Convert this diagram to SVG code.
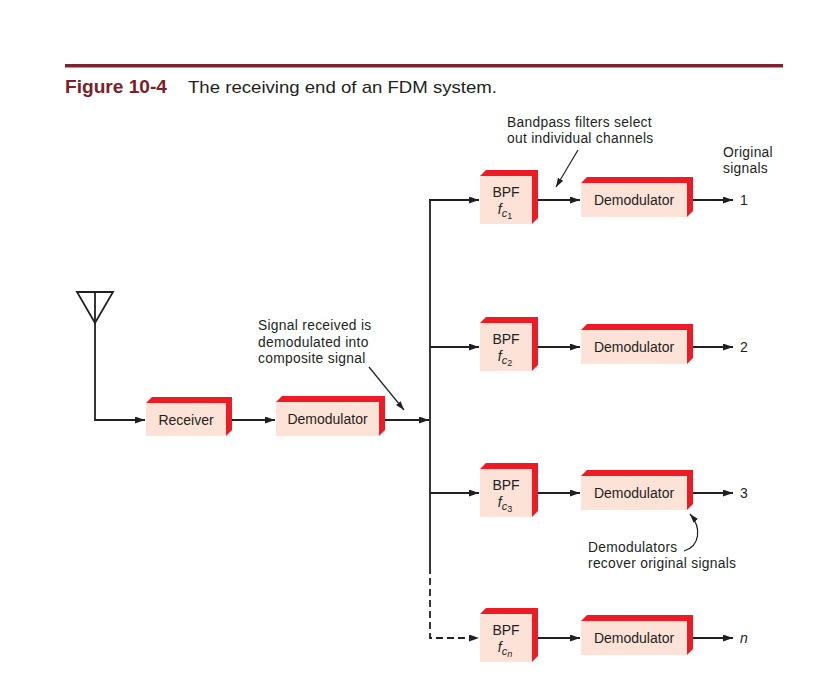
<svg xmlns="http://www.w3.org/2000/svg" width="818" height="683" viewBox="0 0 818 683">
<defs>
<style>
.t{font-family:"Liberation Sans",Arial,sans-serif;fill:#231f20}
.bx{font-size:14px}
.an{font-size:13.8px;letter-spacing:0.3px}
.ln{stroke:#231f20;stroke-width:1.8;fill:none}
.fr{fill:#fde2d8}
.rd{fill:#ed1c24}
</style>
<marker id="ah" markerUnits="userSpaceOnUse" markerWidth="11" markerHeight="8" refX="10" refY="3.5" orient="auto">
<path d="M0,0 L10,3.5 L0,7 z" fill="#231f20"/>
</marker>
<marker id="ah2" markerUnits="userSpaceOnUse" markerWidth="10" markerHeight="8" refX="9" refY="3" orient="auto">
<path d="M0,0 L9,3 L0,6 z" fill="#231f20"/>
</marker>
</defs>
<rect width="818" height="683" fill="#ffffff"/>
<rect x="65" y="64" width="718" height="3.5" fill="#7a2530"/>
<text class="t" x="65" y="93" font-size="18" font-weight="bold" style="fill:#7b2027" textLength="102" lengthAdjust="spacingAndGlyphs">Figure 10-4</text>
<text class="t" x="188" y="93" font-size="17" textLength="309" lengthAdjust="spacingAndGlyphs">The receiving end of an FDM system.</text>

<g id="antenna">
<polygon class="ln" points="77,292 113,292 95,323"/>
</g>

<g id="connectors">
<path class="ln" d="M95,292 V420 H145" marker-end="url(#ah)"/>
<path class="ln" d="M232,420 H275" marker-end="url(#ah)"/>
<path class="ln" d="M385,420 H429" marker-end="url(#ah)"/>
<path class="ln" d="M430,199 V567"/>
<path class="ln" d="M430,567 V638 H479" stroke-dasharray="7 4" marker-end="url(#ah)"/>
<path class="ln" d="M429,200 H479" marker-end="url(#ah)"/>
<path class="ln" d="M430,347 H479" marker-end="url(#ah)"/>
<path class="ln" d="M430,493 H479" marker-end="url(#ah)"/>
<path class="ln" d="M538,200 H580" marker-end="url(#ah)"/>
<path class="ln" d="M538,347 H580" marker-end="url(#ah)"/>
<path class="ln" d="M538,493 H580" marker-end="url(#ah)"/>
<path class="ln" d="M538,638 H580" marker-end="url(#ah)"/>
<path class="ln" d="M693,200 H733" marker-end="url(#ah)"/>
<path class="ln" d="M693,347 H733" marker-end="url(#ah)"/>
<path class="ln" d="M693,493 H733" marker-end="url(#ah)"/>
<path class="ln" d="M693,638 H733" marker-end="url(#ah)"/>
<path class="ln" style="stroke-width:1.2" d="M369,367 L404,410" marker-end="url(#ah2)"/>
<path class="ln" style="stroke-width:1.2" d="M578,150 L556,187" marker-end="url(#ah2)"/>
<path class="ln" style="stroke-width:1.2" d="M684,551 C700,546 702,528 690,514" marker-end="url(#ah2)"/>
</g>

<g id="receiver">
<polygon class="rd" points="146,403 152,397 232,397 232,430 226,436"/>
<rect class="fr" x="146" y="403" width="80" height="33"/>
<text class="t bx" x="186" y="425" text-anchor="middle">Receiver</text>
</g>
<g id="demod0">
<polygon class="rd" points="276,402 282,396 385,396 385,430 379,436"/>
<rect class="fr" x="276" y="402" width="103" height="34"/>
<text class="t bx" x="327.5" y="424" text-anchor="middle">Demodulator</text>
</g>

<g id="bpf1">
<polygon class="rd" points="480,176 486,170 538,170 538,218 532,224"/>
<rect class="fr" x="480" y="176" width="52" height="48"/>
<text class="t bx" x="506" y="197" text-anchor="middle">BPF</text>
<text class="t bx" x="505" y="214" text-anchor="middle" font-style="italic">f<tspan font-size="11" dy="3">c</tspan><tspan font-size="9" dy="2" font-style="normal">1</tspan></text>
</g>
<g id="bpf2">
<polygon class="rd" points="480,323 486,317 538,317 538,365 532,371"/>
<rect class="fr" x="480" y="323" width="52" height="48"/>
<text class="t bx" x="506" y="344" text-anchor="middle">BPF</text>
<text class="t bx" x="505" y="361" text-anchor="middle" font-style="italic">f<tspan font-size="11" dy="3">c</tspan><tspan font-size="9" dy="2" font-style="normal">2</tspan></text>
</g>
<g id="bpf3">
<polygon class="rd" points="480,469 486,463 538,463 538,511 532,517"/>
<rect class="fr" x="480" y="469" width="52" height="48"/>
<text class="t bx" x="506" y="490" text-anchor="middle">BPF</text>
<text class="t bx" x="505" y="507" text-anchor="middle" font-style="italic">f<tspan font-size="11" dy="3">c</tspan><tspan font-size="9" dy="2" font-style="normal">3</tspan></text>
</g>
<g id="bpfn">
<polygon class="rd" points="480,614 486,608 538,608 538,656 532,662"/>
<rect class="fr" x="480" y="614" width="52" height="48"/>
<text class="t bx" x="506" y="635" text-anchor="middle">BPF</text>
<text class="t bx" x="505" y="652" text-anchor="middle" font-style="italic">f<tspan font-size="11" dy="3">c</tspan><tspan font-size="9" dy="2">n</tspan></text>
</g>

<g id="demod1">
<polygon class="rd" points="581,183 587,177 693,177 693,211 687,217"/>
<rect class="fr" x="581" y="183" width="106" height="34"/>
<text class="t bx" x="634" y="205" text-anchor="middle">Demodulator</text>
</g>
<g id="demod2">
<polygon class="rd" points="581,330 587,324 693,324 693,358 687,364"/>
<rect class="fr" x="581" y="330" width="106" height="34"/>
<text class="t bx" x="634" y="352" text-anchor="middle">Demodulator</text>
</g>
<g id="demod3">
<polygon class="rd" points="581,476 587,470 693,470 693,504 687,510"/>
<rect class="fr" x="581" y="476" width="106" height="34"/>
<text class="t bx" x="634" y="498" text-anchor="middle">Demodulator</text>
</g>
<g id="demodn">
<polygon class="rd" points="581,621 587,615 693,615 693,649 687,655"/>
<rect class="fr" x="581" y="621" width="106" height="34"/>
<text class="t bx" x="634" y="643" text-anchor="middle">Demodulator</text>
</g>

<g id="labels">
<text class="t bx" x="740" y="205">1</text>
<text class="t bx" x="740" y="352">2</text>
<text class="t bx" x="740" y="498">3</text>
<text class="t bx" x="740" y="643" font-style="italic">n</text>
<text class="t an" x="723" y="157">Original</text>
<text class="t an" x="723" y="173">signals</text>
<text class="t an" x="507" y="127">Bandpass filters select</text>
<text class="t an" x="507" y="143">out individual channels</text>
<text class="t an" x="258" y="330">Signal received is</text>
<text class="t an" x="258" y="347">demodulated into</text>
<text class="t an" x="258" y="363">composite signal</text>
<text class="t an" x="588" y="552">Demodulators</text>
<text class="t an" x="588" y="568">recover original signals</text>
</g>
</svg>
